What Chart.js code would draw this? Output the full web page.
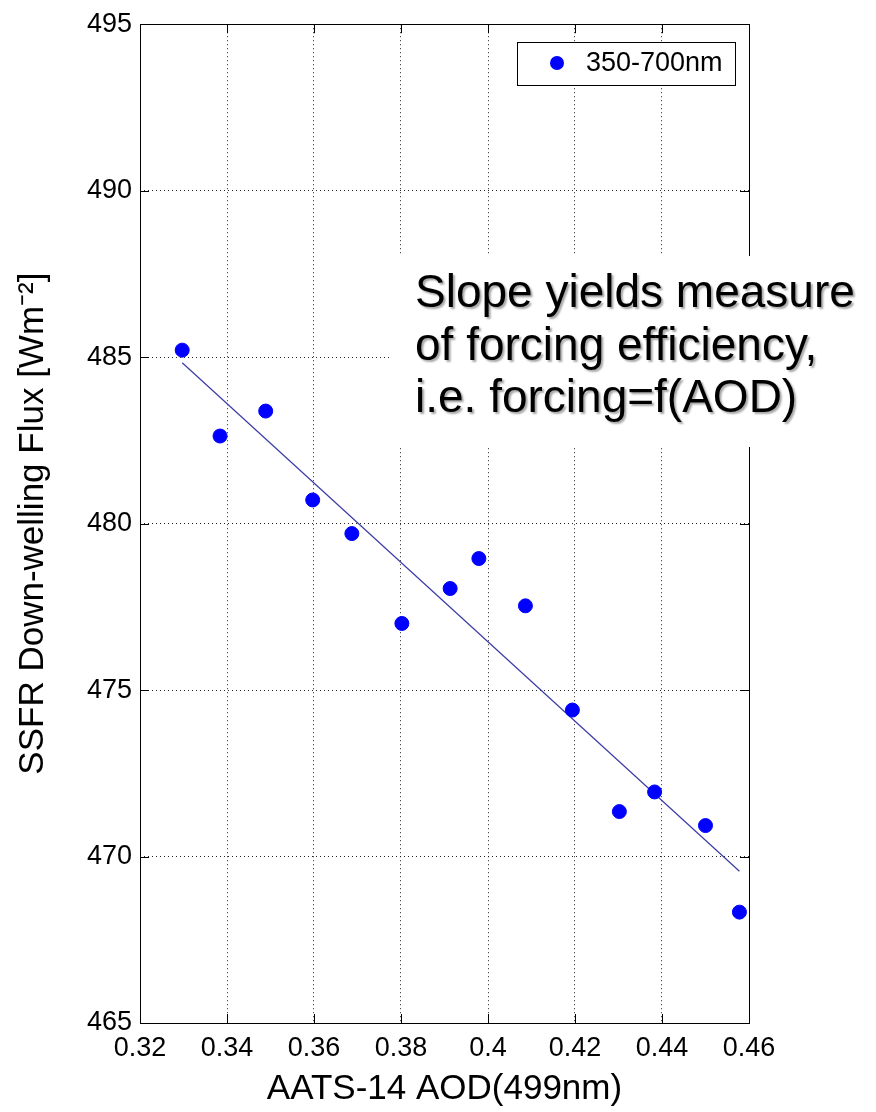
<!DOCTYPE html>
<html>
<head>
<meta charset="utf-8">
<script src="https://cdn.jsdelivr.net/npm/chart.js@4/dist/chart.umd.min.js"></script>
<style>
  html, body { margin: 0; padding: 0; background: #ffffff; }
  #wrap { width: 876px; height: 1112px; position: relative; }
</style>
</head>
<body>
<div id="wrap"><canvas id="c" width="876" height="1112"></canvas></div>
<script>
// ---- data ----
const aodValues  = [0.3297, 0.3384, 0.3489, 0.3597, 0.3687, 0.3802, 0.3913, 0.3979, 0.4086, 0.4194, 0.4302, 0.4383, 0.4500, 0.4578];
const fluxValues = [485.21, 482.63, 483.38, 480.71, 479.70, 477.00, 478.05, 478.95, 477.53, 474.40, 471.35, 471.94, 470.93, 468.33];
const fitAod  = [0.3297, 0.4578];
const fitFlux = [484.83, 469.56];
const xTickLabels = ['0.32', '0.34', '0.36', '0.38', '0.4', '0.42', '0.44', '0.46'];
const yTickLabels = ['465', '470', '475', '480', '485', '490', '495'];
const seriesName = '350-700nm';
const xTitle = 'AATS-14 AOD(499nm)';
const yTitle = 'SSFR Down-welling Flux [Wm\u207B\u00B2]';
const noteLines = ['Slope yields measure', 'of forcing efficiency,', 'i.e. forcing=f(AOD)'];

const FONT = '"Liberation Sans", Arial, Helvetica, sans-serif';
const pointColor = '#0000ff';
const fitColor = '#3b3ba6';

const frameAndExtras = {
  id: 'frameAndExtras',
  afterDraw(chart) {
    const ctx = chart.ctx;
    const a = chart.chartArea;
    const xs = chart.scales.x, ys = chart.scales.y;
    ctx.save();
    // solid frame
    ctx.strokeStyle = '#000';
    ctx.lineWidth = 1;
    ctx.setLineDash([]);
    ctx.strokeRect(Math.round(a.left) + 0.5, Math.round(a.top) + 0.5,
                   Math.round(a.right - a.left), Math.round(a.bottom - a.top));
    // inward ticks
    const tl = 9;
    ctx.beginPath();
    xs.ticks.forEach(t => {
      const px = Math.round(xs.getPixelForValue(t.value)) + 0.5;
      ctx.moveTo(px, a.bottom); ctx.lineTo(px, a.bottom - tl);
      ctx.moveTo(px, a.top); ctx.lineTo(px, a.top + tl);
    });
    ys.ticks.forEach(t => {
      const py = Math.round(ys.getPixelForValue(t.value)) + 0.5;
      ctx.moveTo(a.left, py); ctx.lineTo(a.left + tl, py);
      ctx.moveTo(a.right, py); ctx.lineTo(a.right - tl, py);
    });
    ctx.stroke();

    // legend box
    const lx = 517.5, ly = 42.5, lw = 218, lh = 43;
    ctx.fillStyle = '#fff';
    ctx.fillRect(lx, ly, lw, lh);
    ctx.strokeStyle = '#000';
    ctx.strokeRect(lx, ly, lw, lh);
    ctx.beginPath();
    ctx.arc(557, 63, 7, 0, Math.PI * 2);
    ctx.fillStyle = pointColor;
    ctx.fill();
    ctx.fillStyle = '#000';
    ctx.font = '27px ' + FONT;
    ctx.textBaseline = 'middle';
    ctx.textAlign = 'left';
    ctx.fillText(seriesName, 586, 64);

    // annotation box covering grid / frame
    ctx.fillStyle = '#fff';
    ctx.fillRect(389, 256, 876 - 389, 447 - 256);
    ctx.font = '46px ' + FONT;
    ctx.textBaseline = 'alphabetic';
    ctx.shadowColor = 'rgba(0,0,0,0.35)';
    ctx.shadowOffsetX = 2;
    ctx.shadowOffsetY = 2;
    ctx.shadowBlur = 2;
    ctx.fillStyle = '#000';
    const baseY = [307, 360, 412];
    noteLines.forEach((s, i) => ctx.fillText(s, 415, baseY[i]));
    ctx.restore();
  }
};

new Chart(document.getElementById('c'), {
  type: 'scatter',
  data: {
    datasets: [
      {
        label: seriesName,
        data: aodValues.map((x, i) => ({ x: x, y: fluxValues[i] })),
        backgroundColor: pointColor,
        borderColor: pointColor,
        pointRadius: 7,
        pointHoverRadius: 7,
        borderWidth: 1,
        order: 1
      },
      {
        label: 'fit',
        type: 'line',
        data: fitAod.map((x, i) => ({ x: x, y: fitFlux[i] })),
        borderColor: fitColor,
        borderWidth: 1.2,
        pointRadius: 0,
        fill: false,
        tension: 0,
        order: 2
      }
    ]
  },
  options: {
    responsive: false,
    animation: false,
    events: [],
    layout: { padding: { top: 23, right: 127, left: 0, bottom: 0 } },
    plugins: {
      legend: { display: false },
      tooltip: { enabled: false }
    },
    scales: {
      x: {
        type: 'linear',
        min: 0.32, max: 0.46,
        afterBuildTicks: s => { s.ticks = xTickLabels.map(v => ({ value: parseFloat(v) })); },
        afterFit: s => { s.height = 89; },
        ticks: {
          autoSkip: false,
          maxRotation: 0,
          padding: 9,
          color: '#000',
          font: { family: FONT, size: 27 },
          callback: (v, i) => xTickLabels[i]
        },
        grid: { color: 'rgba(0,0,0,0.85)', lineWidth: 1, drawTicks: false },
        border: { display: false, dash: [1, 3] },
        title: {
          display: true, text: xTitle, color: '#000',
          font: { family: FONT, size: 35 },
          padding: { top: 0, bottom: 2 }
        }
      },
      y: {
        type: 'linear',
        min: 465, max: 495,
        afterBuildTicks: s => { s.ticks = yTickLabels.map(v => ({ value: parseFloat(v) })); },
        afterFit: s => { s.width = 140; },
        ticks: {
          autoSkip: false,
          padding: 8,
          color: '#000',
          font: { family: FONT, size: 27 },
          callback: (v, i) => yTickLabels[i]
        },
        grid: { color: 'rgba(0,0,0,0.85)', lineWidth: 1, drawTicks: false },
        border: { display: false, dash: [1, 3] },
        title: {
          display: true, text: yTitle, color: '#000',
          font: { family: FONT, size: 35 },
          padding: { top: 12, bottom: 0 }
        }
      }
    }
  },
  plugins: [frameAndExtras]
});
</script>
</body>
</html>
